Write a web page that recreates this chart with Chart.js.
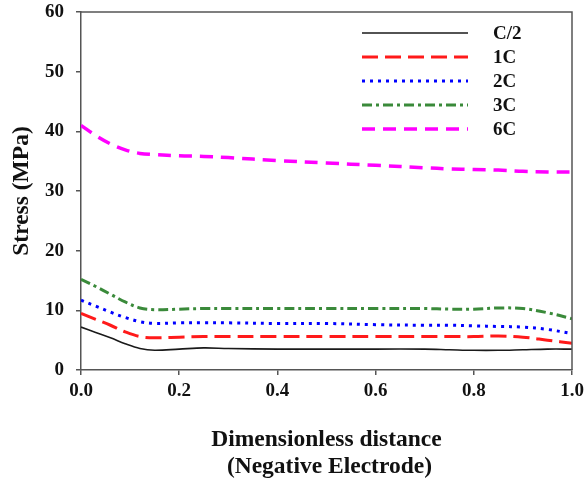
<!DOCTYPE html>
<html>
<head>
<meta charset="utf-8">
<script src="https://cdn.jsdelivr.net/npm/chart.js@4.4.1/dist/chart.umd.min.js"></script>
<style>
html,body{margin:0;padding:0;background:#fff;}
#wrap{width:586px;height:489px;}
</style>
</head>
<body>
<div id="wrap"><canvas id="c" width="586" height="489"></canvas></div>
<script>
const xPos = [0, 0.03, 0.06, 0.09, 0.12, 0.15, 0.2, 0.25, 0.3, 0.4, 0.5, 0.6, 0.7, 0.75, 0.8, 0.85, 0.9, 0.95, 1.0];
const seriesNames = ['C/2', '1C', '2C', '3C', '6C'];
const cHalf = [7.2, 6.3, 5.4, 4.4, 3.6, 3.3, 3.5, 3.7, 3.6, 3.5, 3.5, 3.5, 3.5, 3.4, 3.3, 3.3, 3.4, 3.5, 3.5];
const c1 = [9.5, 8.5, 7.5, 6.4, 5.6, 5.4, 5.5, 5.6, 5.6, 5.6, 5.6, 5.6, 5.6, 5.6, 5.6, 5.7, 5.5, 5.0, 4.5];
const c2 = [11.7, 10.7, 9.7, 8.8, 8.1, 7.8, 7.9, 7.9, 7.9, 7.8, 7.8, 7.6, 7.5, 7.5, 7.4, 7.3, 7.2, 6.8, 6.1];
const c3 = [15.2, 14.0, 12.7, 11.4, 10.4, 10.1, 10.2, 10.3, 10.3, 10.3, 10.3, 10.3, 10.3, 10.2, 10.2, 10.4, 10.3, 9.6, 8.6];
const c6 = [41.0, 39.3, 37.9, 36.9, 36.3, 36.1, 35.9, 35.8, 35.6, 35.1, 34.7, 34.3, 33.9, 33.7, 33.6, 33.5, 33.3, 33.2, 33.2];
const yTicks = [0, 10, 20, 30, 40, 50, 60];
const xTicks = [0, 0.2, 0.4, 0.6, 0.8, 1.0];

const styles = [
  {color: '#1a1a1a', width: 1.6, dash: []},
  {color: '#ff1a1a', width: 3, dash: [16, 7]},
  {color: '#0000ff', width: 3, dash: [3, 5]},
  {color: '#3a8a3a', width: 3, dash: [10, 4, 3, 4]},
  {color: '#ff00ff', width: 3.5, dash: [13, 8]}
];
const values = [cHalf, c1, c2, c3, c6];

const datasets = values.map((v, i) => ({
  label: seriesNames[i],
  data: v.map((y, k) => ({x: xPos[k], y})),
  borderColor: styles[i].color,
  borderWidth: styles[i].width,
  borderDash: styles[i].dash,
  pointRadius: 0,
  tension: 0.35,
  fill: false
}));

const serif = "'Liberation Serif', 'Times New Roman', serif";
const axisColor = '#555';

const boxAndLegend = {
  id: 'boxAndLegend',
  afterDatasetsDraw(chart) {
    const {ctx, chartArea: a} = chart;
    ctx.save();
    ctx.strokeStyle = axisColor;
    ctx.lineWidth = 1.5;
    ctx.beginPath();
    ctx.moveTo(a.left, a.top);
    ctx.lineTo(a.right, a.top);
    ctx.lineTo(a.right, a.bottom);
    ctx.stroke();
    chart.data.datasets.forEach((ds, i) => {
      const y = 33 + 24 * i;
      ctx.strokeStyle = ds.borderColor;
      ctx.lineWidth = ds.borderWidth;
      ctx.setLineDash(ds.borderDash);
      ctx.beginPath();
      ctx.moveTo(362, y);
      ctx.lineTo(468, y);
      ctx.stroke();
      ctx.setLineDash([]);
      ctx.fillStyle = '#111';
      ctx.font = "bold 19px " + serif;
      ctx.textBaseline = 'middle';
      ctx.textAlign = 'left';
      ctx.fillText(ds.label, 493, y + 1);
    });
    ctx.restore();
  }
};

new Chart(document.getElementById('c'), {
  type: 'line',
  data: {datasets},
  options: {
    responsive: false,
    animation: false,
    devicePixelRatio: 1,
    layout: {padding: {top: 12, right: 14, left: 0, bottom: 0}},
    plugins: {legend: {display: false}, tooltip: {enabled: false}},
    scales: {
      x: {
        type: 'linear', min: 0, max: 1,
        afterFit(s) { s.height = 119; s.paddingLeft = 0; s.paddingRight = 0; },
        afterBuildTicks(s) { s.ticks = xTicks.map(v => ({value: v})); },
        grid: {display: true, drawOnChartArea: false, drawTicks: true, tickLength: 5, color: axisColor, lineWidth: 1.5},
        border: {display: true, color: axisColor, width: 1.5},
        ticks: {color: '#111', font: {family: serif, size: 19, weight: 'bold'}, padding: 5, maxRotation: 0,
          callback: v => Number(v).toFixed(1)},
        title: {display: true, text: ['Dimensionless distance', ' (Negative Electrode)'], color: '#111',
          font: {family: serif, size: 23.5, weight: 'bold', lineHeight: 1.15}, padding: {top: 0, bottom: 9}}
      },
      y: {
        type: 'linear', min: 0, max: 60,
        afterFit(s) { s.width = 81; s.paddingTop = 0; s.paddingBottom = 0; },
        afterBuildTicks(s) { s.ticks = yTicks.map(v => ({value: v})); },
        grid: {display: true, drawOnChartArea: false, drawTicks: true, tickLength: 5, color: axisColor, lineWidth: 1.5},
        border: {display: true, color: axisColor, width: 1.5},
        ticks: {color: '#111', font: {family: serif, size: 19, weight: 'bold'}, padding: 12},
        title: {display: true, text: 'Stress (MPa)', color: '#111',
          font: {family: serif, size: 23.5, weight: 'bold', lineHeight: 1.2}, padding: {top: 8, bottom: 0}}
      }
    }
  },
  plugins: [boxAndLegend]
});
</script>
</body>
</html>
